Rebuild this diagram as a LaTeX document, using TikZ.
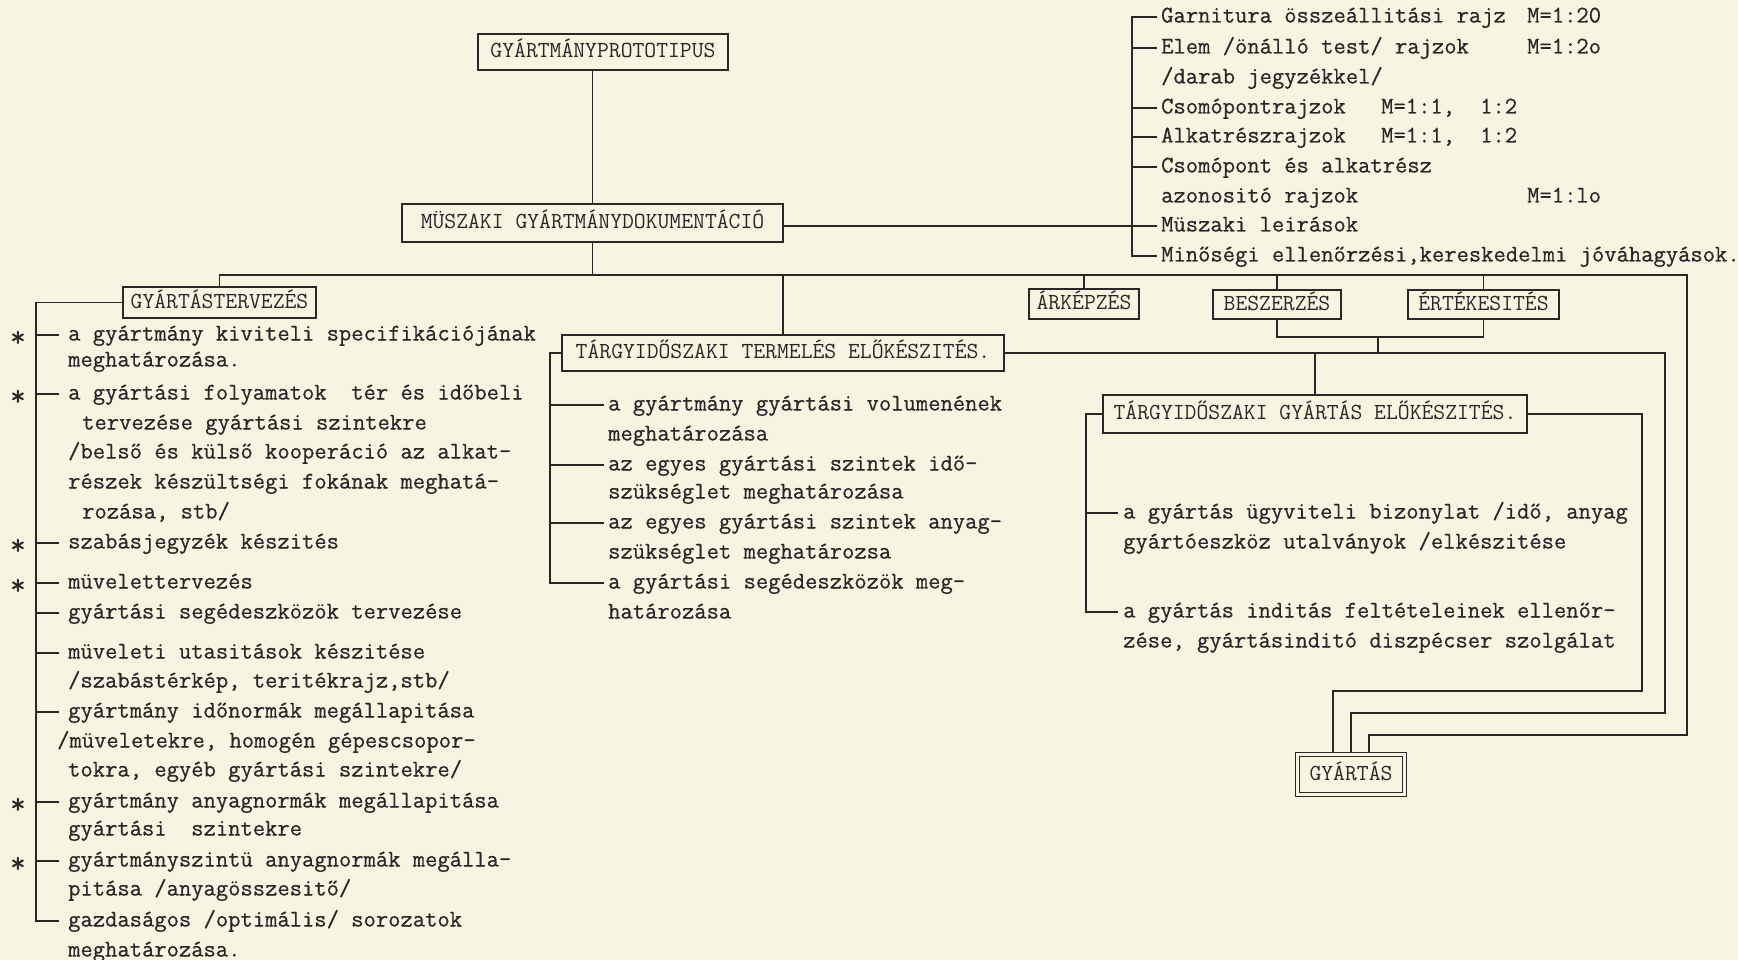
\documentclass[tikz,border=0pt]{standalone}
\usepackage{fontspec}
\newfontfamily\twr{Latin Modern Mono}[FakeBold=0.6]
\newfontfamily\twb{Latin Modern Mono}
\usetikzlibrary{calc}
\definecolor{paper}{RGB}{247,244,226}
\definecolor{ink}{RGB}{40,40,40}
\tikzset{
 base/.style={font=\twr\fontsize{23.9}{30}\selectfont, text=ink},
 txt/.style={base, anchor=west, inner sep=0pt, text height=16pt, text depth=5pt},
 box/.style={font=\twb\fontsize{23}{30}\selectfont, text=ink, draw=ink, line width=1.3pt, inner sep=0pt, text height=16pt, text depth=5pt},
 wire/.style={draw=ink, line width=1.3pt},
}
\begin{document}
\begin{tikzpicture}[x=1pt,y=-1pt]
\fill[paper] (0,0) rectangle (1738,960);
\useasboundingbox (0,0) rectangle (1738,960);

% boxes
\node[box, minimum width=250pt, minimum height=36pt] (proto) at (603,52) {GYÁRTMÁNYPROTOTIPUS};
\node[box, minimum width=381pt, minimum height=38pt] (mus) at (592.5,223) {MÜSZAKI GYÁRTMÁNYDOKUMENTÁCIÓ};
\node[box, minimum width=193pt, minimum height=31pt] (gyt) at (219.5,302.5) {GYÁRTÁSTERVEZÉS};
\node[box, minimum width=442pt, minimum height=36pt] (term) at (783,353) {TÁRGYIDŐSZAKI TERMELÉS ELŐKÉSZITÉS.};
\node[box, minimum width=110pt, minimum height=30pt] (ark) at (1084,304) {ÁRKÉPZÉS};
\node[box, minimum width=128pt, minimum height=29pt] (bes) at (1277,304.5) {BESZERZÉS};
\node[box, minimum width=151pt, minimum height=29pt] (ert) at (1483.5,304.5) {ÉRTÉKESITÉS};
\node[box, minimum width=424pt, minimum height=38pt] (ge) at (1315,414) {TÁRGYIDŐSZAKI GYÁRTÁS ELŐKÉSZITÉS.};
\node[box, double=paper, double distance=2.5pt, outer sep=2.55pt, minimum width=107pt, minimum height=40pt] (gy) at (1351,774.5) {GYÁRTÁS};

% top right list
\node[txt] (T1) at (1161,17) {Garnitura összeállitási rajz};
\node[txt] (T1m) at (1527,17) {M=1:20};
\node[txt] (T2) at (1161,48) {Elem /önálló test/ rajzok};
\node[txt] (T2m) at (1527,48) {M=1:2o};
\node[txt] (T3) at (1161,78) {/darab jegyzékkel/};
\node[txt] (T4) at (1161,108) {Csomópontrajzok};
\node[txt] (T4a) at (1381,108) {M=1:1,};
\node[txt] (T4b) at (1480,108) {1:2};
\node[txt] (T5) at (1161,137) {Alkatrészrajzok};
\node[txt] (T5a) at (1381,137) {M=1:1,};
\node[txt] (T5b) at (1480,137) {1:2};
\node[txt] (T6) at (1161,167) {Csomópont és alkatrész};
\node[txt] (T7) at (1161,197) {azonositó rajzok};
\node[txt] (T7m) at (1527,197) {M=1:lo};
\node[txt] (T8) at (1161,226) {Müszaki leirások};
\node[txt] (T9) at (1161,256) {Minőségi ellenőrzési,kereskedelmi jóváhagyások.};

% left list
\node[txt] (L1) at (68,335) {a gyártmány kiviteli specifikációjának};
\node[txt] (L2) at (68,361) {meghatározása.};
\node[txt] (L3) at (68,394) {a gyártási folyamatok~ tér és időbeli};
\node[txt] (L4) at (82,424) {tervezése gyártási szintekre};
\node[txt] (L5) at (68,453) {/belső és külső kooperáció az alkat-};
\node[txt] (L6) at (68,483) {részek készültségi fokának meghatá-};
\node[txt] (L7) at (82,513) {rozása, stb/};
\node[txt] (L8) at (68,543) {szabásjegyzék készités};
\node[txt] (L9) at (68,583) {müvelettervezés};
\node[txt] (L10) at (68,613) {gyártási segédeszközök tervezése};
\node[txt] (L11) at (68,653) {müveleti utasitások készitése};
\node[txt] (L12) at (68,682) {/szabástérkép, teritékrajz,stb/};
\node[txt] (L13) at (68,712) {gyártmány időnormák megállapitása};
\node[txt] (L14) at (57,742) {/müveletekre, homogén gépescsopor-};
\node[txt] (L15) at (68,771) {tokra, egyéb gyártási szintekre/};
\node[txt] (L16) at (68,802) {gyártmány anyagnormák megállapitása};
\node[txt] (L17) at (68,830) {gyártási~ szintekre};
\node[txt] (L18) at (68,861) {gyártmányszintü anyagnormák megálla-};
\node[txt] (L19) at (68,890) {pitása /anyagösszesitő/};
\node[txt] (L20) at (68,921) {gazdaságos /optimális/ sorozatok};
\node[txt] (L21) at (68,951) {meghatározása.};
% asterisks
\foreach \y/\n in {335/1,394/2,543/3,583/4,802/5,861/6}
  \node[txt, font=\twr\fontsize{30}{30}\selectfont] (S\n) at (10,\y+6) {*};

% middle list
\node[txt] (M1) at (608,405) {a gyártmány gyártási volumenének};
\node[txt] (M2) at (608,435) {meghatározása};
\node[txt] (M3) at (608,465) {az egyes gyártási szintek idő-};
\node[txt] (M4) at (608,493) {szükséglet meghatározása};
\node[txt] (M5) at (608,523) {az egyes gyártási szintek anyag-};
\node[txt] (M6) at (608,553) {szükséglet meghatározsa};
\node[txt] (M7) at (608,583) {a gyártási segédeszközök meg-};
\node[txt] (M8) at (608,613) {határozása};

% right lower list
\node[txt] (R1) at (1123,513) {a gyártás ügyviteli bizonylat /idő, anyag};
\node[txt] (R2) at (1123,543) {gyártóeszköz utalványok /elkészitése};
\node[txt] (R3) at (1123,612) {a gyártás inditás feltételeinek ellenőr-};
\node[txt] (R4) at (1123,642) {zése, gyártásinditó diszpécser szolgálat};

% coordinates
\coordinate (bus) at (0,275);
\coordinate (brk) at (0,337);
\coordinate (brm) at (1378,337);
\coordinate (o1) at (1642,691);
\coordinate (o2) at (1665,713);
\coordinate (o3) at (1687,735);
\coordinate (g1) at ([xshift=-18pt]gy.north);
\coordinate (g2) at (gy.north);
\coordinate (g3) at ([xshift=18pt]gy.north);
\coordinate (gl) at (36,0);
\coordinate (ml) at (550,0);
\coordinate (rl) at (1086,0);
\coordinate (tl) at (1132,0);

% main connectors
\draw[wire] (mus.north) -- (mus.north |- proto.south);
\draw[wire] (mus.south) -- (mus.south |- bus);
\draw[wire] (gyt.north) -- (gyt.north |- bus) -- (bus -| o3) -- (o3) -- (o3 -| g3) -- (g3);
\draw[wire] (term.north) -- (term.north |- bus);
\draw[wire] (ark.north) -- (ark.north |- bus);
\draw[wire] (bes.north) -- (bes.north |- bus);
\draw[wire] (ert.north) -- (ert.north |- bus);
\draw[wire] (bes.south) -- (bes.south |- brk) -- (ert.south |- brk) -- (ert.south);
\draw[wire] (brm) -- (brm |- term.east);
\draw[wire] (term.east) -- (term.east -| o2) -- (o2) -- (o2 -| g2) -- (g2);
\draw[wire] (ge.north) -- (ge.north |- term.east);
\draw[wire] (ge.east) -- (ge.east -| o1) -- (o1) -- (o1 -| g1) -- (g1);

% top right list lines
\draw[wire] ([xshift=-4pt]T1.west) -- (T1.west -| tl) -- (T9.west -| tl) -- ([xshift=-4pt]T9.west);
\foreach \n in {T2,T4,T5,T6}
  \draw[wire] (\n.west -| tl) -- ([xshift=-4pt]\n.west);
\draw[wire] (mus.east |- T8.west) -- ([xshift=-4pt]T8.west);

% left list lines
\draw[wire] (gyt.west) -- (gyt.west -| gl) -- (L20.west -| gl) -- ([xshift=-9pt]L20.west);
\foreach \n in {L1,L3,L8,L9,L10,L11,L13,L16,L18}
  \draw[wire] (\n.west -| gl) -- ([xshift=-9pt]\n.west);

% middle list lines
\draw[wire] (term.west) -- (term.west -| ml) -- (M7.west -| ml) -- ([xshift=-4pt]M7.west);
\foreach \n in {M1,M3,M5}
  \draw[wire] (\n.west -| ml) -- ([xshift=-4pt]\n.west);

% right lower list lines
\draw[wire] (ge.west) -- (ge.west -| rl) -- (R3.west -| rl) -- ([xshift=-5pt]R3.west);
\draw[wire] (R1.west -| rl) -- ([xshift=-5pt]R1.west);
\end{tikzpicture}
\end{document}
